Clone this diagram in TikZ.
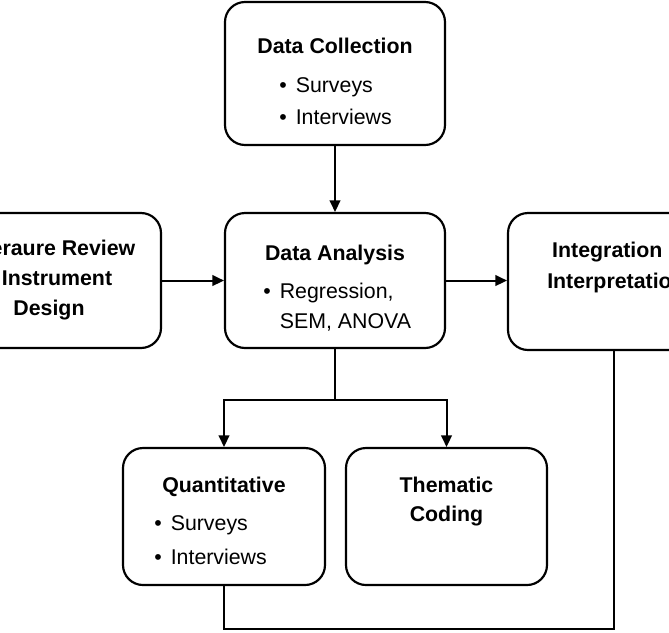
\documentclass[tikz,border=0pt]{standalone}
\usepackage{fontspec}
\setmainfont{Liberation Sans}
\usetikzlibrary{arrows.meta}

\newcommand{\bul}{•\hspace{5.4pt}}
\newcommand{\nobul}{\hphantom{•}\hspace{5.4pt}}

\begin{document}
\begin{tikzpicture}[
    x=0.6pt, y=-0.6pt,
    stagebox/.style={draw, line width=1.3pt, rounded corners=12pt, fill=white},
    stagetitle/.style={anchor=base, inner sep=0pt, font=\fontsize{12.8pt}{15pt}\selectfont\bfseries},
    stageitem/.style={anchor=base west, inner sep=0pt, font=\fontsize{12.8pt}{15pt}\selectfont},
    flow/.style={line width=1.2pt, -{Triangle[length=7pt,width=6.5pt]}},
    link/.style={line width=1.2pt}
]
    \useasboundingbox (0,0) rectangle (669,632);
    \clip (0,0) rectangle (669,632);
    \fill[white] (0,0) rectangle (669,632);

    % Boxes
    \node[stagebox, minimum width=132pt, minimum height=85.8pt] (collect) at (335,73.5) {};
    \node[stagebox, minimum width=132pt, minimum height=81pt] (analysis) at (335,280.5) {};
    \node[stagebox, minimum width=132pt, minimum height=81pt] (review) at (51,280.5) {};
    \node[stagebox, minimum width=127.2pt, minimum height=82.2pt] (integr) at (614,281.5) {};
    \node[stagebox, minimum width=121.2pt, minimum height=82.2pt] (quant) at (224,516.5) {};
    \node[stagebox, minimum width=120.6pt, minimum height=82.2pt] (thematic) at (446.5,516.5) {};

    % Data Collection
    \node[stagetitle] (collecttitle) at (335,53) {Data Collection};
    \node[stageitem] (collectone) at (279,92) {\bul Surveys};
    \node[stageitem] (collecttwo) at (279,124) {\bul Interviews};

    % Data Analysis
    \node[stagetitle] (analysistitle) at (335,260) {Data Analysis};
    \node[stageitem] (analysisone) at (263,298) {\bul Regression,};
    \node[stageitem] (analysistwo) at (263,328) {\nobul SEM, ANOVA};

    % Literature review (cut at the left edge)
    \node[stagetitle] (reviewone) at (50,255) {Literaure Review};
    \node[stagetitle] (reviewtwo) at (57,285) {Instrument};
    \node[stagetitle] (reviewthree) at (49,315) {Design};

    % Integration (cut at the right edge)
    \node[stagetitle] (integrone) at (618,257) {Integration \&};
    \node[stagetitle] (integrtwo) at (616,288) {Interpretation};

    % Quantitative
    \node[stagetitle] (quanttitle) at (224,492) {Quantitative};
    \node[stageitem] (quantone) at (154,530) {\bul Surveys};
    \node[stageitem] (quanttwo) at (154,564) {\bul Interviews};

    % Thematic coding
    \node[stagetitle] (thematicone) at (446.5,492) {Thematic};
    \node[stagetitle] (thematictwo) at (446.5,521) {Coding};

    % Connectors
    \coordinate (split) at (335,400);
    \draw[flow] (collect.south) -- (analysis.north);
    \draw[flow] (review.east) -- (analysis.west);
    \draw[flow] (analysis.east) -- (analysis.east -| integr.west);
    \draw[link] (analysis.south) -- (split);
    \draw[flow] (split) -| (quant.north);
    \draw[flow] (split) -| (thematic.north);
    \draw[link] (quant.south) -- ++(0,43) -| (integr.south);
\end{tikzpicture}
\end{document}
